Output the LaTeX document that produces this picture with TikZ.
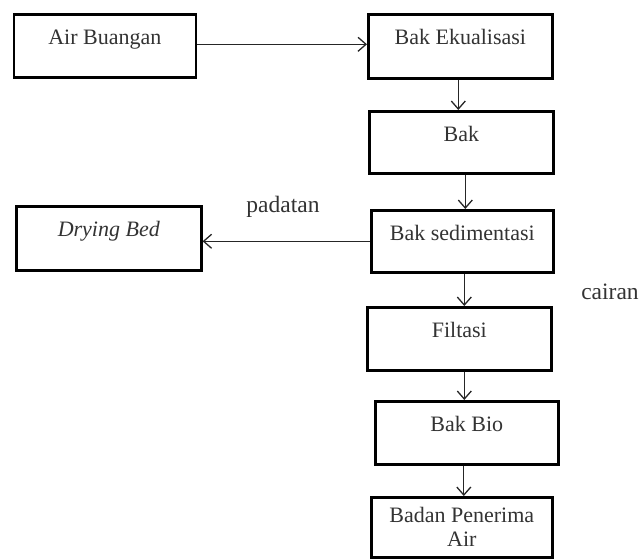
\documentclass[tikz,border=0pt]{standalone}
\usepackage{fontspec}
\setmainfont{Liberation Serif}
\usetikzlibrary{arrows.meta}
\begin{document}
\begin{tikzpicture}[x=1pt,y=1pt,
  box/.style={draw=black, line width=2.6pt, anchor=north west, inner xsep=0pt, inner ysep=0pt,
    text=black!80, font=\fontsize{22}{25}\selectfont, text height=30pt},
  arr/.style={draw=black!85, line width=1.3pt, -{Straight Barb[length=8pt,width=14pt,line width=1.3pt]}},
  lbl/.style={text=black!80, font=\fontsize{23.5}{27}\selectfont, inner sep=0pt}]
\useasboundingbox[fill=white] (0,0) rectangle (643,-558);
% boxes
\node[box, minimum width=182pt, minimum height=63pt, text depth=33pt] (b1) at (12.5,-13) {Air Buangan};
\node[box, minimum width=184pt, minimum height=64pt, text depth=34pt] (b2) at (367,-13) {Bak Ekualisasi};
\node[box, minimum width=184pt, minimum height=62pt, text depth=32pt] (b3) at (368,-110) {Bak};
\node[box, minimum width=182pt, minimum height=62pt, text depth=32pt] (b4) at (370,-209) {Bak sedimentasi};
\node[box, minimum width=185pt, minimum height=64pt, text depth=34pt, font=\fontsize{22}{25}\selectfont\itshape] (b5) at (15,-205) {Drying Bed};
\node[box, minimum width=184pt, minimum height=63pt, text depth=33pt] (b6) at (366,-306) {Filtasi};
\node[box, minimum width=183pt, minimum height=63pt, text depth=32pt] (b7) at (374,-400) {Bak Bio};
\node[box, minimum width=181pt, minimum height=60pt, text height=25pt, text depth=35pt] (b8) at (370,-496)
  {\setlength\tabcolsep{0pt}\renewcommand\arraystretch{0.95}\begin{tabular}[t]{c}Badan Penerima\\Air\end{tabular}};
% labels
\node[lbl] (padatan) at (283,-207) {padatan};
\node[lbl] (cairan) at (610,-292) {cairan};
% connectors
\draw[arr] ([yshift=1.5pt]b1.east) -- ([yshift=1.5pt]b1.east -| b2.west);
\draw[arr] ([xshift=-2pt]b2.south) -- ([xshift=-2pt]b2.south |- b3.north);
\draw[arr] ([xshift=4pt]b3.south) -- ([xshift=4pt]b3.south |- b4.north);
\draw[arr] (b4.west) -- (b4.west -| b5.east);
\draw[arr] ([xshift=2pt]b4.south) -- ([xshift=2pt]b4.south |- b6.north);
\draw[arr] ([xshift=5pt]b6.south) -- ([xshift=5pt]b6.south |- b7.north);
\draw[arr] ([xshift=-3pt]b7.south) -- ([xshift=-3pt]b7.south |- b8.north);
\end{tikzpicture}
\end{document}
